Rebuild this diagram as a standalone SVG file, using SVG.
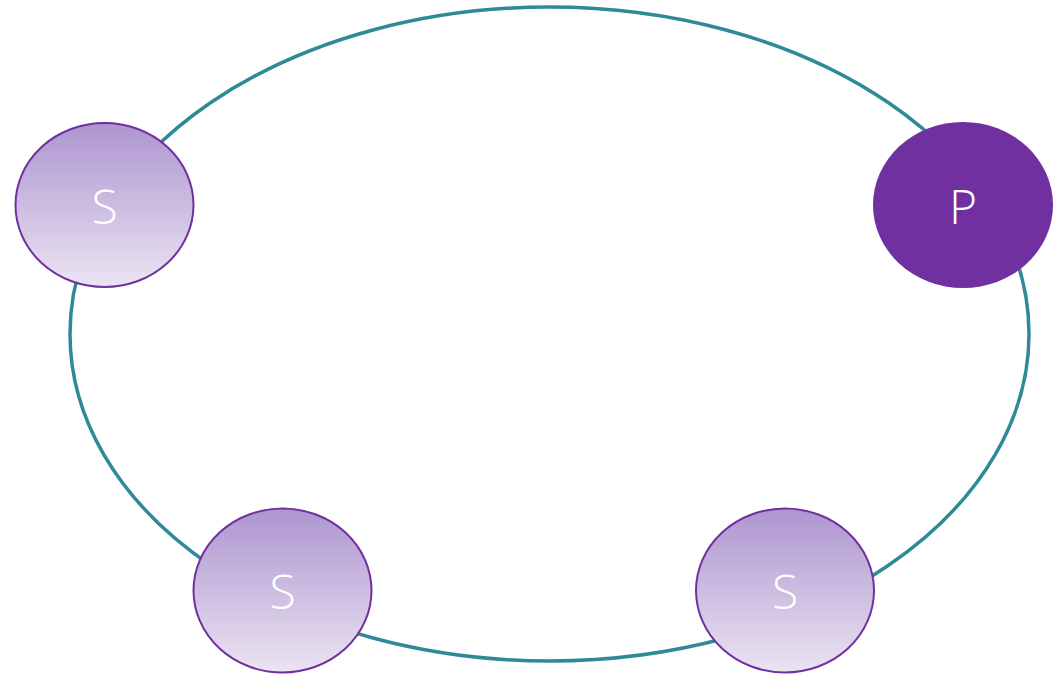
<svg xmlns="http://www.w3.org/2000/svg" width="1059" height="674" viewBox="0 0 1059 674">
  <defs>
    <linearGradient id="sgrad" x1="0" y1="0" x2="0" y2="1">
      <stop offset="0" stop-color="#AD95CF"/>
      <stop offset="1" stop-color="#EBE4F2"/>
    </linearGradient>
  </defs>
  <style>
    .ring { fill: none; stroke: #2E8A98; stroke-width: 3.5; }
    .sec { fill: url(#sgrad); stroke: #7030A0; stroke-width: 2; }
    .pri { fill: #7030A0; }
    .lbl { font-family: "Open Sans", "Liberation Sans", sans-serif; font-weight: 300; font-size: 48px; fill: #FFFFFF; text-anchor: middle; dominant-baseline: central; }
  </style>
  <rect width="1059" height="674" fill="#FFFFFF"/>
  <g id="connectors">
    <ellipse class="ring" cx="549.5" cy="334" rx="479.5" ry="327"/>
  </g>
  <g id="node-s1">
    <ellipse class="sec" cx="104.5" cy="205" rx="89" ry="82"/>
    <text class="lbl" x="104.5" y="205">S</text>
  </g>
  <g id="node-p">
    <ellipse class="pri" cx="963" cy="205" rx="90" ry="83"/>
    <text class="lbl" x="963" y="205">P</text>
  </g>
  <g id="node-s2">
    <ellipse class="sec" cx="282.5" cy="590.5" rx="89" ry="82"/>
    <text class="lbl" x="282.5" y="590.5">S</text>
  </g>
  <g id="node-s3">
    <ellipse class="sec" cx="785" cy="590.5" rx="89" ry="82"/>
    <text class="lbl" x="785" y="590.5">S</text>
  </g>
</svg>
